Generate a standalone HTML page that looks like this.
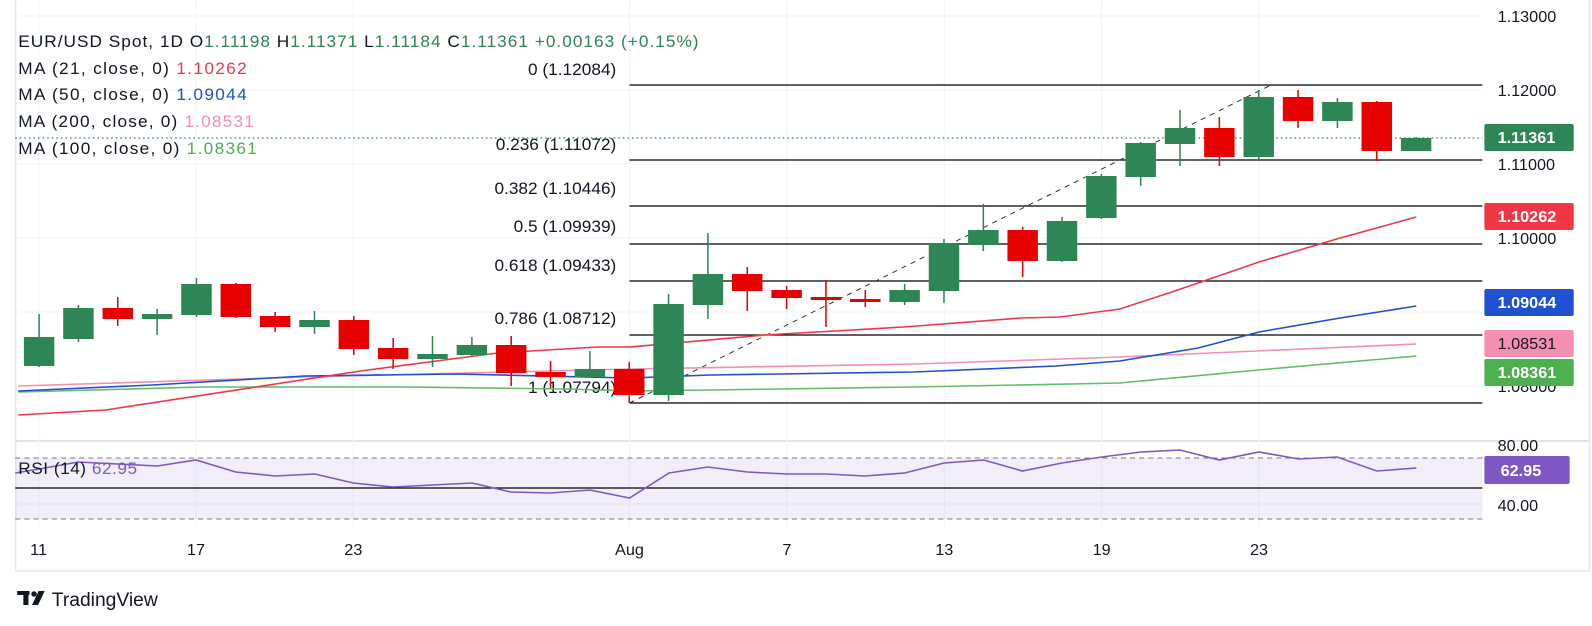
<!DOCTYPE html>
<html><head><meta charset="utf-8"><style>
body{margin:0;background:#fff;}
svg{display:block;font-family:"Liberation Sans",sans-serif;}
</style></head><body>
<svg width="1592" height="626" viewBox="0 0 1568 626" preserveAspectRatio="none" xmlns="http://www.w3.org/2000/svg">
<rect width="1568" height="626" fill="#fff"/>
<rect x="15.5" y="-2" width="1550" height="573" fill="none" stroke="#e6e9f0" stroke-width="1.5"/>
<line x1="15" y1="441" x2="1565" y2="441" stroke="#e0e3eb" stroke-width="2"/>
<g stroke="#f0f3fa" stroke-width="1">
<line x1="38" y1="0" x2="38" y2="527"/><line x1="193" y1="0" x2="193" y2="527"/><line x1="348" y1="0" x2="348" y2="527"/>
<line x1="620" y1="0" x2="620" y2="527"/><line x1="775" y1="0" x2="775" y2="527"/><line x1="930" y1="0" x2="930" y2="527"/>
<line x1="1085" y1="0" x2="1085" y2="527"/><line x1="1240" y1="0" x2="1240" y2="527"/>
<line x1="15" y1="16" x2="1460" y2="16"/><line x1="15" y1="90" x2="1460" y2="90"/><line x1="15" y1="164" x2="1460" y2="164"/>
<line x1="15" y1="238" x2="1460" y2="238"/><line x1="15" y1="312" x2="1460" y2="312"/><line x1="15" y1="386" x2="1460" y2="386"/>
<line x1="15" y1="504" x2="1460" y2="504"/>
</g>
<rect x="15" y="458" width="1445" height="61" fill="#7e57c2" fill-opacity="0.1"/>
<line x1="15" y1="458" x2="1460" y2="458" stroke="#787b86" stroke-dasharray="5,4"/>
<line x1="15" y1="519" x2="1460" y2="519" stroke="#787b86" stroke-dasharray="5,4"/>
<line x1="15" y1="488" x2="1460" y2="488" stroke="#000" stroke-width="1.2"/>
<polyline fill="none" stroke="#7e57c2" stroke-width="1.6" points="15,473 38.5,469 77,462 116,464 155,466 193,460 232,472 271,476 310,474 348,483 387,487 426,485 465,483 503,492 542,493 581,490 620,498 659,473 697,467 736,472 775,474 814,474 852,476 891,473 930,463 969,460 1007,471 1046,463 1085,457 1124,452 1162,450 1201,460 1240,452 1279,459 1317,457 1356,471 1395,468"/>
<g stroke="#000" stroke-width="1.2">
<line x1="620" y1="85" x2="1460" y2="85"/><line x1="620" y1="160" x2="1460" y2="160"/><line x1="620" y1="206" x2="1460" y2="206"/>
<line x1="620" y1="244" x2="1460" y2="244"/><line x1="620" y1="281" x2="1460" y2="281"/><line x1="620" y1="335" x2="1460" y2="335"/>
<line x1="620" y1="403" x2="1460" y2="403"/>
</g>
<line x1="620" y1="403" x2="1252" y2="85" stroke="#333" stroke-dasharray="5,5" stroke-width="1"/>
<g font-size="17" fill="#131722" text-anchor="end">
<text x="607" y="75">0 (1.12084)</text><text x="607" y="150">0.236 (1.11072)</text><text x="607" y="194">0.382 (1.10446)</text>
<text x="607" y="232">0.5 (1.09939)</text><text x="607" y="271">0.618 (1.09433)</text><text x="607" y="324">0.786 (1.08712)</text>
<text x="607" y="393">1 (1.07794)</text>
</g>
<line x1="15" y1="138" x2="1460" y2="138" stroke="#2e8555" stroke-dasharray="1.5,3" stroke-width="1.2"/>
<polyline fill="none" stroke="#66bb6a" stroke-width="1.6" points="18,392 200,387 400,387 560,389 620,391 700,390 900,387 1103,383 1250,369 1395,356"/>
<polyline fill="none" stroke="#f48fb1" stroke-width="1.6" points="18,386 300,377 620,369 900,364 1103,357 1395,344"/>
<polyline fill="none" stroke="#2150d0" stroke-width="1.6" points="18,391 150,385 300,376 450,374 620,378 700,375 900,372 1040,366 1103,361 1180,348 1240,332 1320,318 1395,306"/>
<polyline fill="none" stroke="#f23645" stroke-width="1.6" points="18,415 104,410 355,371 490,353 588,347 620,347 753,335 890,327 1005,318 1044,317 1103,309 1160,290 1240,262 1320,238 1395,217"/>
<g stroke-width="1.5">
<g fill="#2e8555" stroke="#2e8555">
<line x1="38.5" y1="314" x2="38.5" y2="367"/><rect x="23.5" y="337" width="30" height="29" stroke="none"/>
<line x1="77.25" y1="305" x2="77.25" y2="342"/><rect x="62.25" y="308" width="30" height="31" stroke="none"/>
<line x1="154.75" y1="309" x2="154.75" y2="335"/><rect x="139.75" y="314" width="30" height="5" stroke="none"/>
<line x1="193.5" y1="278" x2="193.5" y2="317"/><rect x="178.5" y="284" width="30" height="31" stroke="none"/>
<line x1="309.75" y1="311" x2="309.75" y2="334"/><rect x="294.75" y="320" width="30" height="7" stroke="none"/>
<line x1="426" y1="336" x2="426" y2="367"/><rect x="411" y="354" width="30" height="5" stroke="none"/>
<line x1="464.75" y1="337" x2="464.75" y2="357"/><rect x="449.75" y="345" width="30" height="10" stroke="none"/>
<line x1="581" y1="351" x2="581" y2="377"/><rect x="566" y="369" width="30" height="8" stroke="none"/>
<line x1="658.5" y1="294" x2="658.5" y2="401"/><rect x="643.5" y="304" width="30" height="91" stroke="none"/>
<line x1="697.25" y1="233" x2="697.25" y2="319"/><rect x="682.25" y="274" width="30" height="31" stroke="none"/>
<line x1="891" y1="284" x2="891" y2="305"/><rect x="876" y="290" width="30" height="12" stroke="none"/>
<line x1="929.75" y1="239" x2="929.75" y2="303"/><rect x="914.75" y="244" width="30" height="47" stroke="none"/>
<line x1="968.5" y1="204" x2="968.5" y2="251"/><rect x="953.5" y="230" width="30" height="15" stroke="none"/>
<line x1="1046" y1="217" x2="1046" y2="262"/><rect x="1031" y="221" width="30" height="40" stroke="none"/>
<line x1="1084.75" y1="174" x2="1084.75" y2="219"/><rect x="1069.75" y="176" width="30" height="42" stroke="none"/>
<line x1="1123.5" y1="142" x2="1123.5" y2="186"/><rect x="1108.5" y="143" width="30" height="34" stroke="none"/>
<line x1="1162.25" y1="110" x2="1162.25" y2="166"/><rect x="1147.25" y="128" width="30" height="16" stroke="none"/>
<line x1="1239.75" y1="90" x2="1239.75" y2="161"/><rect x="1224.75" y="97" width="30" height="60" stroke="none"/>
<line x1="1317.25" y1="98" x2="1317.25" y2="128"/><rect x="1302.25" y="102" width="30" height="19" stroke="none"/>
<line x1="1394.75" y1="137" x2="1394.75" y2="151"/><rect x="1379.75" y="138" width="30" height="13" stroke="none"/>
</g>
<g fill="#e60000" stroke="#e60000">
<line x1="116" y1="297" x2="116" y2="326"/><rect x="101" y="308" width="30" height="11" stroke="none"/>
<line x1="232.25" y1="283" x2="232.25" y2="318"/><rect x="217.25" y="284" width="30" height="33" stroke="none"/>
<line x1="271" y1="312" x2="271" y2="332"/><rect x="256" y="316" width="30" height="11" stroke="none"/>
<line x1="348.5" y1="316" x2="348.5" y2="355"/><rect x="333.5" y="320" width="30" height="29" stroke="none"/>
<line x1="387.25" y1="338" x2="387.25" y2="369"/><rect x="372.25" y="348" width="30" height="11" stroke="none"/>
<line x1="503.5" y1="336" x2="503.5" y2="386"/><rect x="488.5" y="345" width="30" height="28" stroke="none"/>
<line x1="542.25" y1="361" x2="542.25" y2="388"/><rect x="527.25" y="372" width="30" height="5" stroke="none"/>
<line x1="619.75" y1="362" x2="619.75" y2="403"/><rect x="604.75" y="369" width="30" height="26" stroke="none"/>
<line x1="736" y1="267" x2="736" y2="311"/><rect x="721" y="274" width="30" height="17" stroke="none"/>
<line x1="774.75" y1="286" x2="774.75" y2="309"/><rect x="759.75" y="290" width="30" height="8" stroke="none"/>
<line x1="813.5" y1="280" x2="813.5" y2="327"/><rect x="798.5" y="297" width="30" height="3" stroke="none"/>
<line x1="852.25" y1="290" x2="852.25" y2="307"/><rect x="837.25" y="299" width="30" height="3" stroke="none"/>
<line x1="1007.25" y1="227" x2="1007.25" y2="277"/><rect x="992.25" y="230" width="30" height="31" stroke="none"/>
<line x1="1201" y1="117" x2="1201" y2="166"/><rect x="1186" y="128" width="30" height="29" stroke="none"/>
<line x1="1278.5" y1="90" x2="1278.5" y2="128"/><rect x="1263.5" y="97" width="30" height="24" stroke="none"/>
<line x1="1356" y1="101" x2="1356" y2="161"/><rect x="1341" y="102" width="30" height="49" stroke="none"/>
</g>
</g>
<g font-size="17" fill="#131722">
<text x="18" y="47" textLength="670" lengthAdjust="spacing">EUR/USD Spot, 1D  O<tspan fill="#2e8555">1.11198</tspan>  H<tspan fill="#2e8555">1.11371</tspan>  L<tspan fill="#2e8555">1.11184</tspan>  C<tspan fill="#2e8555">1.11361</tspan>  <tspan fill="#2e8555">+0.00163 (+0.15%)</tspan></text>
<text x="18" y="74" textLength="225" lengthAdjust="spacing">MA (21, close, 0)  <tspan fill="#f23645">1.10262</tspan></text>
<text x="18" y="100" textLength="225" lengthAdjust="spacing">MA (50, close, 0)  <tspan fill="#2150d0">1.09044</tspan></text>
<text x="18" y="127" textLength="232" lengthAdjust="spacing">MA (200, close, 0)  <tspan fill="#f48fb1">1.08531</tspan></text>
<text x="18" y="154" textLength="235" lengthAdjust="spacing">MA (100, close, 0)  <tspan fill="#4caf50">1.08361</tspan></text>
<text x="18" y="474" textLength="117" lengthAdjust="spacing">RSI (14)  <tspan fill="#7e57c2">62.95</tspan></text>
</g>
<g font-size="16" fill="#131722">
<text x="1475" y="22">1.13000</text><text x="1475" y="96">1.12000</text><text x="1475" y="170">1.11000</text>
<text x="1475" y="244">1.10000</text><text x="1475" y="392">1.08000</text>
<text x="1475" y="451">80.00</text><text x="1475" y="511">40.00</text>
</g>
<g font-size="16" font-weight="bold" fill="#fff">
<rect x="1462" y="124" width="88" height="27" rx="2" fill="#2e8555"/><text x="1475" y="143">1.11361</text>
<rect x="1462" y="203" width="88" height="27" rx="2" fill="#f23645"/><text x="1475" y="222">1.10262</text>
<rect x="1462" y="289" width="88" height="27" rx="2" fill="#2150d0"/><text x="1475" y="308">1.09044</text>
<rect x="1462" y="330" width="88" height="27" rx="2" fill="#f48fb1"/><text x="1475" y="349" fill="#131722" font-weight="normal">1.08531</text>
<rect x="1462" y="359" width="88" height="27" rx="2" fill="#4caf50"/><text x="1475" y="378">1.08361</text>
<rect x="1462" y="456" width="84" height="28" rx="2" fill="#7e57c2"/><text x="1478" y="476">62.95</text>
</g>
<g font-size="16" fill="#131722" text-anchor="middle">
<text x="38" y="555">11</text><text x="193" y="555">17</text><text x="348" y="555">23</text><text x="620" y="555">Aug</text>
<text x="775" y="555">7</text><text x="930" y="555">13</text><text x="1085" y="555">19</text><text x="1240" y="555">23</text>
</g>
<g fill="#131722" transform="translate(0,8)">
<rect x="17" y="583" width="12" height="4"/><rect x="23" y="583" width="5" height="14"/>
<circle cx="33.5" cy="586" r="2.7"/><path d="M38 583 L44 583 L37.5 597 L31.5 597 Z"/>
<text x="51" y="598" font-size="19">TradingView</text>
</g>
</svg>
</body></html>
